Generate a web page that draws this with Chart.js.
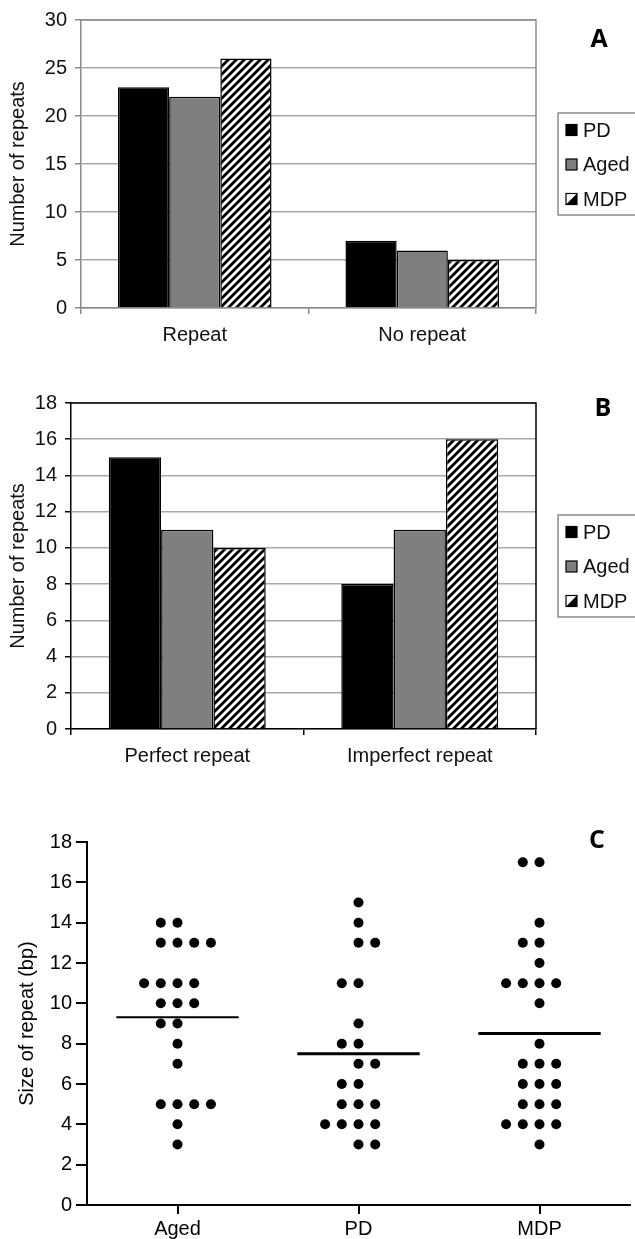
<!DOCTYPE html>
<html>
<head>
<meta charset="utf-8">
<script src="https://cdn.jsdelivr.net/npm/chart.js@4.4.1/dist/chart.umd.min.js"></script>
<style>
  html, body { margin: 0; padding: 0; background: #fff; }
  body { width: 635px; height: 1239px; position: relative; overflow: hidden; }
  canvas { position: absolute; left: 0; }
  .tag { position: absolute; font: bold 25px "Open Sans", "DejaVu Sans", sans-serif; color: #000; transform: translate(-50%, -50%); }
</style>
</head>
<body>
<canvas id="chartA" width="635" height="350" style="top:0"></canvas>
<canvas id="chartB" width="635" height="430" style="top:350px"></canvas>
<canvas id="chartC" width="635" height="459" style="top:780px"></canvas>
<div class="tag" style="left:599px;top:37px">A</div>
<div class="tag" style="left:603px;top:406px">B</div>
<div class="tag" style="left:597px;top:838px">C</div>

<script>
// series names shared by panels A and B
const seriesNames = ['PD', 'Aged', 'MDP'];

// panel A
const repeatCategories = ['Repeat', 'No repeat'];
const repeatPD = [23, 7];
const repeatAged = [22, 6];
const repeatMDP = [26, 5];

// panel B
const perfectCategories = ['Perfect repeat', 'Imperfect repeat'];
const perfectPD = [15, 8];
const perfectAged = [11, 11];
const perfectMDP = [10, 16];

// panel C - repeat sizes (bp) per group, slot = horizontal position in the dot row
const groupNames = ['Aged', 'PD', 'MDP'];
const agedSize = [14, 14, 13, 13, 13, 13, 11, 11, 11, 11, 10, 10, 10, 9, 9, 8, 7, 5, 5, 5, 5, 4, 3];
const pdSize = [15, 14, 13, 13, 11, 11, 9, 8, 8, 7, 7, 6, 6, 5, 5, 5, 4, 4, 4, 4, 3, 3];
const mdpSize = [17, 17, 14, 13, 13, 12, 11, 11, 11, 11, 10, 8, 7, 7, 7, 6, 6, 6, 5, 5, 5, 4, 4, 4, 4, 3];
const agedSlot = [-1, 0, -1, 0, 1, 2, -2, -1, 0, 1, -1, 0, 1, -1, 0, 0, 0, -1, 0, 1, 2, 0, 0];
const pdSlot = [0, 0, 0, 1, -1, 0, 0, -1, 0, 0, 1, -1, 0, -1, 0, 1, -2, -1, 0, 1, 0, 1];
const mdpSlot = [-1, 0, 0, -1, 0, 0, -2, -1, 0, 1, 0, 0, -1, 0, 1, -1, 0, 1, -1, 0, 1, -2, -1, 0, 1, 0];

const FONT = '"Liberation Sans", Arial, Helvetica, sans-serif';
Chart.defaults.font.family = FONT;
Chart.defaults.font.size = 20;
Chart.defaults.color = '#111';

function makeHatch() {
  const c = document.createElement('canvas');
  c.width = 8; c.height = 8;
  const g = c.getContext('2d');
  g.fillStyle = '#fff';
  g.fillRect(0, 0, 8, 8);
  g.strokeStyle = '#000';
  g.lineWidth = 2.8;
  g.beginPath();
  g.moveTo(-2, 10); g.lineTo(10, -2);
  g.moveTo(-6, 6); g.lineTo(6, -6);
  g.moveTo(2, 14); g.lineTo(14, 2);
  g.stroke();
  return g.createPattern(c, 'repeat');
}

// box around the plot area (Excel style frame)
const frame = {
  id: 'frame',
  beforeDatasetsDraw(chart, args, opts) {
    const { ctx, chartArea: a } = chart;
    ctx.save();
    ctx.strokeStyle = opts.color;
    ctx.lineWidth = 1.5;
    ctx.beginPath();
    ctx.moveTo(a.left, a.top);
    ctx.lineTo(a.right, a.top);
    ctx.lineTo(a.right, a.bottom);
    ctx.stroke();
    ctx.restore();
  }
};

// legend in a bordered box to the right of the plot
const boxLegend = {
  id: 'boxLegend',
  afterDraw(chart, args, opts) {
    const { ctx } = chart;
    const a = chart.chartArea;
    const cy = (a.top + a.bottom) / 2;
    const top = cy - 51;
    ctx.save();
    ctx.strokeStyle = '#8a8a8a';
    ctx.lineWidth = 1.5;
    ctx.strokeRect(558, top, 100, 102);
    ctx.font = '20px ' + FONT;
    ctx.textBaseline = 'middle';
    chart.data.datasets.forEach((ds, i) => {
      const y = top + 17 + i * 34.5;
      const x = 566;
      if (ds.swatch === 'hatch') {
        ctx.fillStyle = '#fff';
        ctx.fillRect(x, y - 5.5, 11, 11);
        ctx.fillStyle = '#000';
        ctx.beginPath();
        ctx.moveTo(x + 11, y - 5.5);
        ctx.lineTo(x + 11, y + 5.5);
        ctx.lineTo(x, y + 5.5);
        ctx.closePath();
        ctx.fill();
      } else {
        ctx.fillStyle = ds.backgroundColor;
        ctx.fillRect(x, y - 5.5, 11, 11);
      }
      ctx.strokeStyle = '#000';
      ctx.lineWidth = 1.2;
      ctx.strokeRect(x, y - 5.5, 11, 11);
      ctx.fillStyle = '#111';
      ctx.fillText(ds.label, 583, y + 1);
    });
    ctx.restore();
  }
};

function barChart(id, categories, pd, aged, mdp, yMax, step, pad, yWidth, xHeight, axisColor) {
  const hatch = makeHatch();
  return new Chart(document.getElementById(id), {
    type: 'bar',
    data: {
      labels: categories,
      datasets: [
        { label: seriesNames[0], data: pd, backgroundColor: '#000' },
        { label: seriesNames[1], data: aged, backgroundColor: '#7f7f7f' },
        { label: seriesNames[2], data: mdp, backgroundColor: hatch, swatch: 'hatch' }
      ].map(d => Object.assign(d, {
        borderColor: '#000', borderWidth: 1.5, borderSkipped: 'bottom',
        categoryPercentage: 0.675, barPercentage: 1
      }))
    },
    options: {
      responsive: false,
      animation: false,
      layout: { padding: { top: pad, right: 99, left: 0, bottom: 0 } },
      plugins: {
        legend: { display: false },
        tooltip: { enabled: false },
        frame: { color: axisColor }
      },
      scales: {
        x: {
          grid: { drawOnChartArea: false, tickLength: 6, color: axisColor, lineWidth: 1.5 },
          border: { color: axisColor, width: 1.5 },
          ticks: { padding: 9, color: '#111', font: { size: 20 } },
          afterFit(s) { s.height = xHeight; }
        },
        y: {
          min: 0, max: yMax,
          ticks: { stepSize: step, padding: 8, color: '#111', font: { size: 20 } },
          grid: { color: '#a8a8a8', lineWidth: 1.5, tickLength: 6, tickColor: axisColor },
          border: { color: axisColor, width: 1.5 },
          title: { display: true, text: 'Number of repeats', color: '#111', font: { size: 20 }, padding: { top: 6 } },
          afterFit(s) { s.width = yWidth; }
        }
      }
    },
    plugins: [frame, boxLegend]
  });
}

barChart('chartA', repeatCategories, repeatPD, repeatAged, repeatMDP, 30, 5, 20, 81, 42, '#8a8a8a');
barChart('chartB', perfectCategories, perfectPD, perfectAged, perfectMDP, 18, 2, 53, 71, 51, '#000');

// panel C: column scatter with mean lines
const SLOT = 0.0923;
const HALF = 0.338;
const sizes = [agedSize, pdSize, mdpSize];
const slots = [agedSlot, pdSlot, mdpSlot];
const meanWidths = [2, 3, 3];

const dotSets = sizes.map((vals, g) => ({
  type: 'scatter',
  label: groupNames[g],
  data: vals.map((v, i) => ({ x: g + 1 + slots[g][i] * SLOT, y: v })),
  pointRadius: 5,
  pointBackgroundColor: '#000',
  pointBorderWidth: 0,
  pointHoverRadius: 5
}));
const meanSets = sizes.map((vals, g) => {
  const m = vals.reduce((s, v) => s + v, 0) / vals.length;
  return {
    type: 'line',
    label: groupNames[g] + ' mean',
    data: [{ x: g + 1 - HALF, y: m }, { x: g + 1 + HALF, y: m }],
    borderColor: '#000',
    borderWidth: meanWidths[g],
    pointRadius: 0
  };
});

new Chart(document.getElementById('chartC'), {
  type: 'scatter',
  data: { datasets: [...dotSets, ...meanSets] },
  options: {
    responsive: false,
    animation: false,
    layout: { padding: { top: 62, right: 2, left: 0, bottom: 0 } },
    plugins: { legend: { display: false }, tooltip: { enabled: false } },
    scales: {
      x: {
        type: 'linear', min: 0.5, max: 3.5,
        afterBuildTicks(s) { s.ticks = groupNames.map((n, i) => ({ value: i + 1 })); },
        ticks: { padding: 3, color: '#000', font: { size: 20 }, callback: v => groupNames[v - 1] },
        grid: { drawOnChartArea: false, tickLength: 9, color: '#000', lineWidth: 2 },
        border: { color: '#000', width: 2 },
        afterFit(s) { s.height = 34; }
      },
      y: {
        min: 0, max: 18,
        ticks: { stepSize: 2, padding: 4, color: '#000', font: { size: 20 } },
        grid: { drawOnChartArea: false, tickLength: 11, color: '#000', lineWidth: 2 },
        border: { color: '#000', width: 2 },
        title: { display: true, text: 'Size of repeat (bp)', color: '#000', font: { size: 20 }, padding: { top: 15 } },
        afterFit(s) { s.width = 87; }
      }
    }
  }
});
</script>
</body>
</html>
